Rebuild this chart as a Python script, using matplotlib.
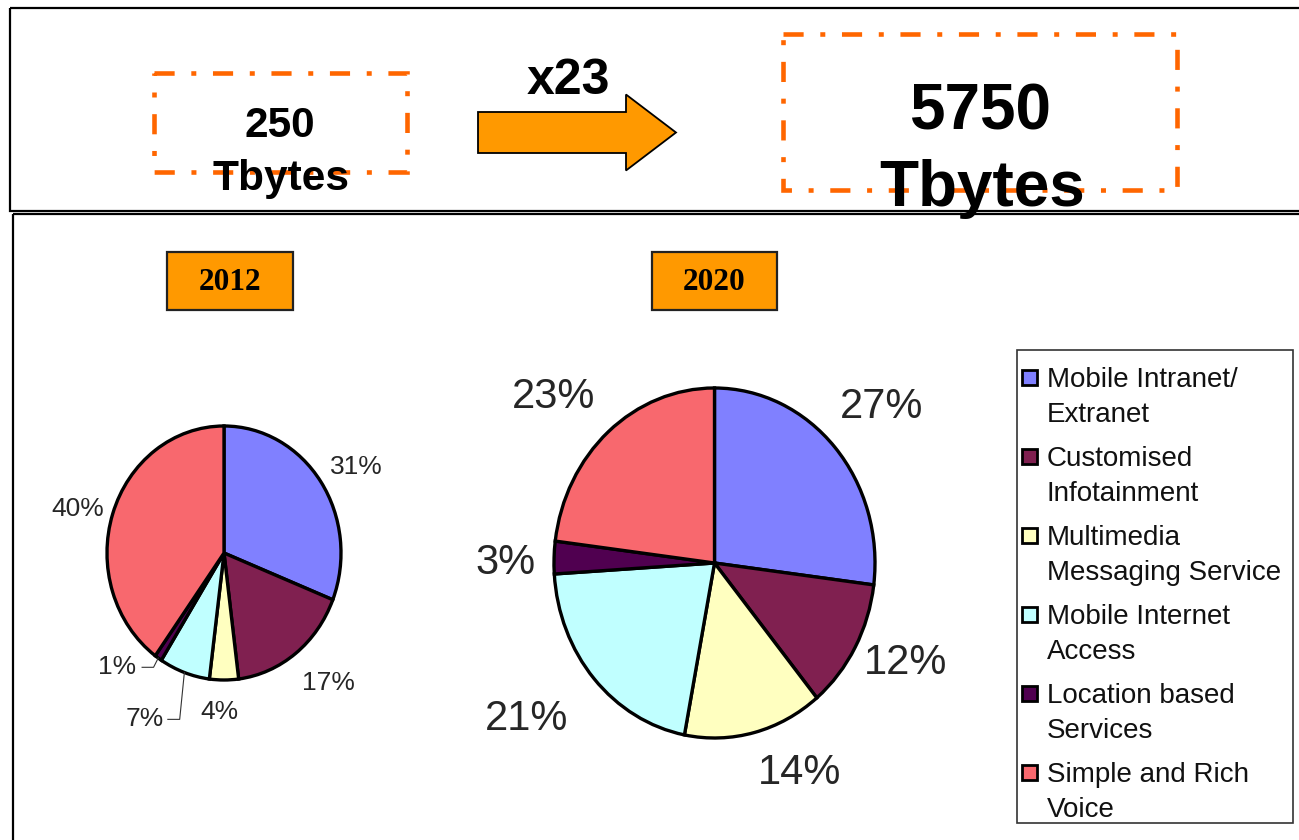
import matplotlib
matplotlib.use("Agg")
import matplotlib.pyplot as plt
from matplotlib.patches import Rectangle, FancyArrow
import numpy as np

plt.rcParams['lines.scale_dashes'] = False
plt.rcParams['font.family'] = ['Liberation Sans', 'DejaVu Sans']

# ---------------- data ----------------
categories = ["Mobile Intranet/\nExtranet", "Customised\nInfotainment",
              "Multimedia\nMessaging Service", "Mobile Internet\nAccess",
              "Location based\nServices", "Simple and Rich\nVoice"]
share_2012 = [31, 17, 4, 7, 1, 40]
share_2020 = [27, 12, 14, 21, 3, 23]
years = ["2012", "2020"]
volume_2012 = ["250", "Tbytes"]
volume_2020 = ["5750", "Tbytes"]
growth_label = "x23"
colors = ["#8080FF", "#802050", "#FFFFC0", "#C0FFFF", "#500050", "#F8686E"]

# ---------------- layout ----------------
W, H = 1299, 840
fig = plt.figure(figsize=(12.99, 8.4), dpi=100)
bg = fig.add_axes([0, 0, 1, 1])
bg.set_xlim(0, W)
bg.set_ylim(H, 0)
bg.axis('off')

orange_line = "#FF6600"
orange_fill = "#FF9900"
dash = (0, (14.5, 12, 3.6, 12))

# frames
bg.add_patch(Rectangle((10, 8), 1320, 203, fill=False, edgecolor='black', lw=1.6))
bg.add_patch(Rectangle((13, 214), 1320, 660, fill=False, edgecolor='black', lw=1.6))

# dashed boxes
bg.add_patch(Rectangle((154, 73), 253, 99, fill=False, edgecolor=orange_line,
                       lw=3.3, linestyle=dash))
bg.add_patch(Rectangle((783, 34), 394, 156, fill=False, edgecolor=orange_line,
                       lw=3.3, linestyle=dash))

# volume texts
bg.text(280, 126, volume_2012[0], ha='center', va='center', fontsize=30.5, fontweight='bold')
bg.text(281, 179, volume_2012[1], ha='center', va='center', fontsize=30.5, fontweight='bold')
bg.text(980, 113, volume_2020[0], ha='center', va='center', fontsize=46, fontweight='bold')
bg.text(982, 189, volume_2020[1], ha='center', va='center', fontsize=46, fontweight='bold')

# arrow + growth factor
bg.add_patch(FancyArrow(478, 132.5, 198, 0, width=41, head_width=76, head_length=50,
                        length_includes_head=True, facecolor=orange_fill,
                        edgecolor='black', lw=1.3))
bg.text(568, 81, growth_label, ha='center', va='center', fontsize=36, fontweight='bold')

# year boxes
for (x0, x1), yr in zip([(167, 293), (652, 777)], years):
    bg.add_patch(Rectangle((x0, 252), x1 - x0, 58, facecolor=orange_fill,
                           edgecolor='#222222', lw=1.6))
    bg.text((x0 + x1) / 2, 282, yr, ha='center', va='center', fontsize=22.5,
            fontweight='bold', family='Liberation Serif')

# legend (manual, from categories/colors)
bg.add_patch(Rectangle((1017, 350), 276, 473, fill=False, edgecolor='#333333', lw=1.2))
for i, (lab, c) in enumerate(zip(categories, colors)):
    yc = 378 + i * 79
    bg.add_patch(Rectangle((1022, yc - 8), 15, 15, facecolor=c, edgecolor='black', lw=2))
    for j, line in enumerate(lab.split('\n')):
        bg.text(1047, yc + 9 + j * 35, line, ha='left', va='baseline',
                fontsize=20, color='#111111')


def pie_axes(cx, cy, rx, ry, lim=1.7):
    w = 2 * lim * rx
    h = 2 * lim * ry
    ax = fig.add_axes([(cx - w / 2) / W, (H - cy - h / 2) / H, w / W, h / H])
    return ax, lim


def draw_pie(values, cx, cy, rx, ry, label_pos, fontsize, leaders=()):
    ax, lim = pie_axes(cx, cy, rx, ry)
    wedges, _ = ax.pie(values, colors=colors, startangle=90, counterclock=False,
                       wedgeprops=dict(edgecolor='black', linewidth=2.4))
    ax.set_aspect('auto')
    ax.set_xlim(-lim, lim)
    ax.set_ylim(-lim, lim)
    ax.axis('off')
    for v, (px, py) in zip(values, label_pos):
        ax.text(px, py, f"{v}%", ha='center', va='center', fontsize=fontsize,
                color='#262626')
    for idx, lx in leaders:
        w = wedges[idx]
        mid = np.deg2rad((w.theta1 + w.theta2) / 2)
        ex, ey = np.cos(mid), np.sin(mid)
        ly = label_pos[idx][1]
        ax.plot([lx, ex - 0.04, ex], [ly, ly, ey], color='#333333', lw=0.8)
    return ax


# 2012 pie
pos_2012 = [(1.13, 0.68), (0.89, -1.02), (-0.04, -1.25), (-0.68, -1.31),
            (-0.91, -0.90), (-1.25, 0.35)]
draw_pie(share_2012, 224, 553, 117, 127, pos_2012, 19,
         leaders=[(3, -0.48), (4, -0.70)])

# 2020 pie
pos_2020 = [(1.04, 0.89), (1.19, -0.57), (0.53, -1.20), (-1.17, -0.89),
            (-1.30, 0.0), (-1.0, 0.95)]
draw_pie(share_2020, 714.5, 563, 160.5, 175, pos_2020, 30)

fig.savefig("out.png", dpi=100)
